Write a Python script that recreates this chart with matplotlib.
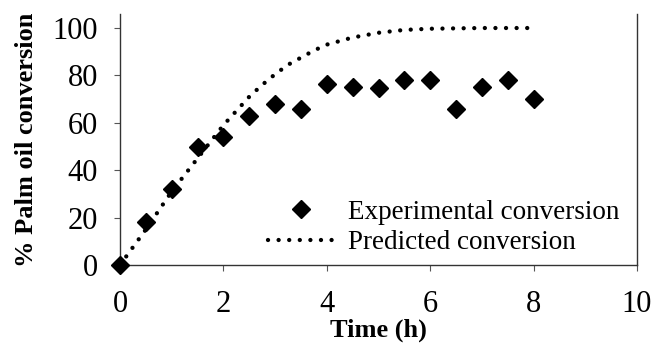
import numpy as np
import matplotlib
matplotlib.use("Agg")
import matplotlib.pyplot as plt

# experimental points
t_exp = [0, 0.5, 1, 1.5, 2, 2.5, 3, 3.5, 4, 4.5, 5, 5.5, 6, 6.5, 7, 7.5, 8]
conv_exp = [0, 18, 32, 50, 54, 63, 68, 66, 76.5, 75, 74.5, 78, 78, 66, 75, 78, 70]

# predicted curve
t_pred = [0, 0.25, 0.5, 0.75, 1, 1.25, 1.5, 1.75, 2, 2.25, 2.5, 2.75, 3, 3.25,
          3.5, 3.75, 4, 4.5, 5, 5.5, 6, 7, 8]
conv_pred = [0, 7.5, 15, 23, 31, 38, 45, 52, 59, 65, 71, 76, 80.5, 84.5,
             87.5, 90.5, 93, 96, 98, 99.2, 99.7, 100, 100]

x_ticks = [0, 2, 4, 6, 8, 10]
y_ticks = [0, 20, 40, 60, 80, 100]

plt.rcParams['font.family'] = ['Liberation Serif', 'DejaVu Serif']

W, H = 655, 349
fig = plt.figure(figsize=(W / 100, H / 100), dpi=100)
ax = fig.add_axes([120 / W, 1 - 265 / H, (637 - 120) / W, (265 - 13.8) / H])

ax.plot(t_pred, conv_pred, color='black', lw=3.1,
        linestyle=(0, (0.01, 2.45)), dash_capstyle='round',
        label='Predicted conversion')
ax.plot(t_exp, conv_exp, 'D', color='black', ms=9.5, clip_on=False, zorder=5,
        label='Experimental conversion')

ax.set_xlim(0, 10)
ax.set_ylim(0, 106)
ax.set_xticks(x_ticks)
ax.set_yticks(y_ticks)
ax.spines['top'].set_visible(False)
for s in ['left', 'bottom', 'right']:
    ax.spines[s].set_linewidth(1.0)
    ax.spines[s].set_color('#333333')
ax.tick_params(axis='both', labelsize=22, length=4, width=0.8, color='#555555')
ax.tick_params(axis='x', pad=14)
ax.tick_params(axis='y', pad=12)

ax.set_xlabel('Time (h)', fontsize=19, fontweight='bold', labelpad=0)
ax.set_ylabel('% Palm oil conversion', fontsize=19, fontweight='bold', labelpad=10)

h, l = ax.get_legend_handles_labels()
ax.legend([h[1], h[0]], [l[1], l[0]], loc='center left',
          bbox_to_anchor=(268 / W, 1 - 227.5 / H), bbox_transform=fig.transFigure,
          frameon=False, fontsize=19.5, handlelength=2.45, handletextpad=0.5,
          labelspacing=0.2, borderpad=0, borderaxespad=0)

fig.savefig('out.png', dpi=100)
